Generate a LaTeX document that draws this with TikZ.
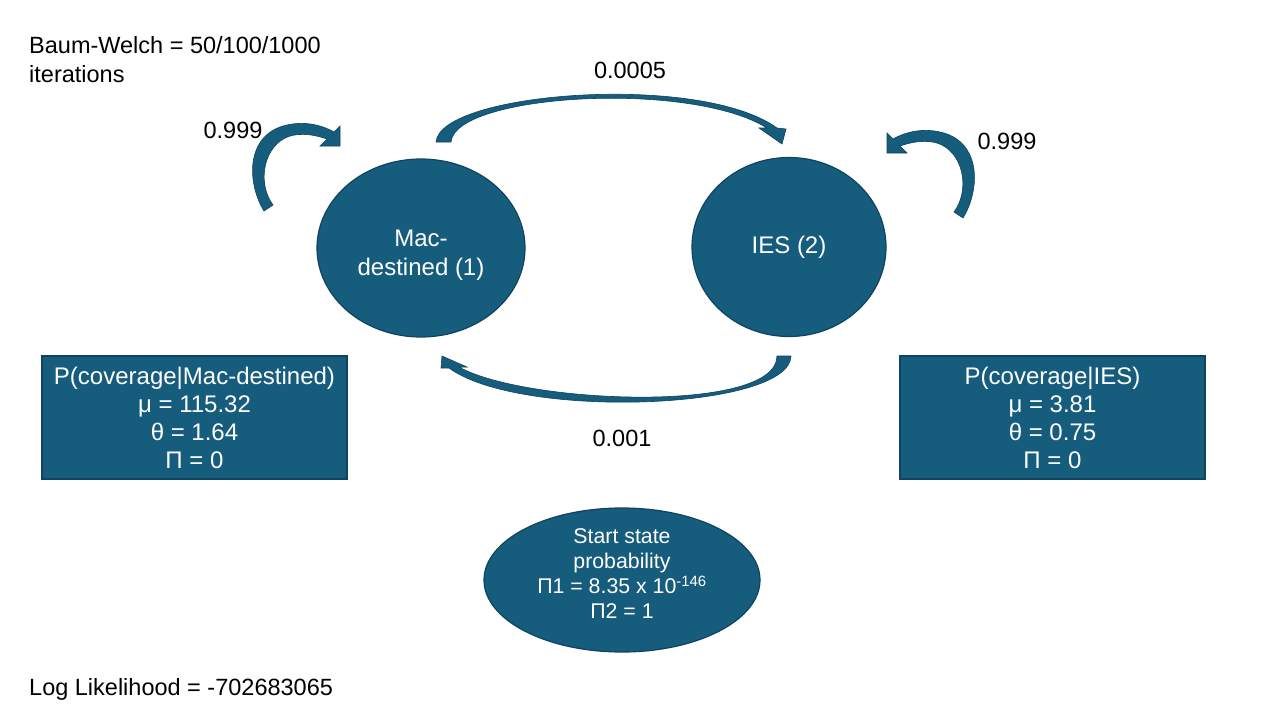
\documentclass[tikz,border=0pt]{standalone}
\usepackage{fontspec}
\setmainfont{Liberation Sans}
\usetikzlibrary{shapes.geometric}
\definecolor{nodefill}{RGB}{22,92,125}
\definecolor{nodeline}{RGB}{14,68,95}
\begin{document}
\begin{tikzpicture}[x=1pt,y=-1pt,
  state/.style={ellipse, draw=nodeline, line width=1.2pt, fill=nodefill, text=white,
    inner sep=0pt, align=center, font=\fontsize{24}{29}\selectfont},
  parbox/.style={rectangle, draw=nodeline, line width=1.5pt, fill=nodefill, text=white,
    minimum width=305pt, minimum height=123pt, align=center,
    font=\fontsize{24}{28}\selectfont, inner sep=0pt},
  lbl/.style={font=\fontsize{23.5}{29}\selectfont, inner sep=0pt},
  blockarrow/.style={fill=nodefill, draw=nodeline, line width=0.6pt, line join=miter}]
\path[use as bounding box, fill=white] (0,0) rectangle (1280,720);

% states
\node[state, minimum width=208pt, minimum height=178pt] (mac) at (421,248) {};
\node[align=center, text=white, font=\fontsize{24}{29}\selectfont, inner sep=0pt] (mactext) at (421,255) {Mac-\\destined (1)};
\node[state, minimum width=194pt, minimum height=179pt] (ies) at (789,247) {IES (2)};
\node[state, minimum width=276pt, minimum height=144pt] (start) at (622,580) {};
\node[align=center, text=white, font=\fontsize{21.3}{25}\selectfont, inner sep=0pt]
  (starttext) at (622,574) {Start state\\probability\\Π1 = 8.35 x 10\textsuperscript{-146}\\Π2 = 1};

% emission boxes
\node[parbox] (emac) at (194.5,417.5) {P(coverage|Mac-destined)\\μ = 115.32\\θ = 1.64\\Π = 0};
\node[parbox] (eies) at (1052.5,417.5) {P(coverage|IES)\\μ = 3.81\\θ = 0.75\\Π = 0};

% top arrow: Mac -> IES
\path[blockarrow] (436,142) .. controls (440,92) and (700,72) .. (777,128)
  -- (786,129) -- (782,144) -- (759,128) -- (767,128)
  .. controls (690,80) and (455,94) .. (451,142) -- cycle;
% bottom arrow: IES -> Mac
\path[blockarrow] (791,356) .. controls (790,410) and (520,420) .. (449,368)
  -- (441,368) -- (442,356) -- (467,367) -- (459,367)
  .. controls (525,404) and (777,414) .. (777,356) -- cycle;
% left self loop
\path[blockarrow] (264,211) .. controls (248,185) and (245,140) .. (280,127)
  .. controls (300,120) and (320,124) .. (334,132)
  -- (340,126) -- (340,146) -- (320,146) -- (327,139)
  .. controls (310,133) and (295,133) .. (285,138)
  .. controls (262,150) and (258,185) .. (273,205) -- cycle;
% right self loop (mirror)
\begin{scope}[xshift=1227pt, yshift=-7pt, xscale=-1]
\path[blockarrow] (264,211) .. controls (248,185) and (245,140) .. (280,127)
  .. controls (300,120) and (320,124) .. (334,132)
  -- (340,126) -- (340,146) -- (320,146) -- (327,139)
  .. controls (310,133) and (295,133) .. (285,138)
  .. controls (262,150) and (258,185) .. (273,205) -- cycle;
\end{scope}

% labels
\node[lbl] (l11) at (233,130) {0.999};
\node[lbl] (l22) at (1007,141) {0.999};
\node[lbl] (l12) at (630,70) {0.0005};
\node[lbl] (l21) at (622,438) {0.001};
\node[lbl, align=left, anchor=north west] (bw) at (29,36) {Baum-Welch = 50/100/1000\\iterations};
\node[lbl, anchor=west] (ll) at (29,689) {Log Likelihood = -702683065};
\end{tikzpicture}
\end{document}
